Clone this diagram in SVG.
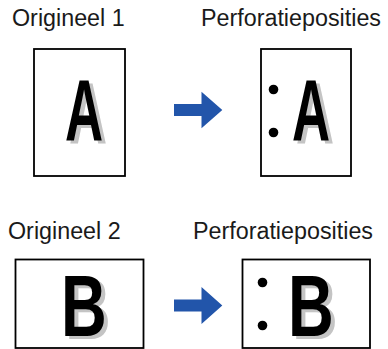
<svg xmlns="http://www.w3.org/2000/svg" width="388" height="349" viewBox="0 0 388 349">
<style>
.lbl{font-family:"Liberation Sans",Arial,sans-serif;font-size:23.3px;fill:#1a1a1a}
.page{fill:#fff;stroke:#000;stroke-width:1.8}
.big{font-family:"Liberation Sans",Arial,sans-serif;font-weight:bold;font-size:88px}
.sh{fill:#c4c4c4}
.fg{fill:#000}
.hole{fill:#000}
.arrow{fill:#2255aa}
</style>
<rect width="388" height="349" fill="#fff"/>
<text class="lbl" x="12" y="26">Origineel 1</text>
<text class="lbl" x="201" y="26">Perforatieposities</text>
<text class="lbl" x="8" y="239">Origineel 2</text>
<text class="lbl" x="193" y="239">Perforatieposities</text>

<g id="orig1">
<rect class="page" x="34" y="49" width="91" height="127"/>
<text class="big sh" transform="translate(69,143) scale(0.6,1)">A</text>
<text class="big fg" transform="translate(65,140) scale(0.6,1)">A</text>
</g>
<g id="punch1">
<rect class="page" x="261" y="49" width="90" height="127"/>
<circle class="hole" cx="273.5" cy="89.5" r="4.8"/>
<circle class="hole" cx="273.5" cy="132.5" r="4.8"/>
<text class="big sh" transform="translate(296,143) scale(0.6,1)">A</text>
<text class="big fg" transform="translate(292,140) scale(0.6,1)">A</text>
</g>
<g id="orig2">
<rect class="page" x="15.5" y="259.5" width="128" height="88.5"/>
<text class="big sh" transform="translate(65,339) scale(0.72,1)">B</text>
<text class="big fg" transform="translate(61,336) scale(0.72,1)">B</text>
</g>
<g id="punch2">
<rect class="page" x="242.5" y="259.5" width="127.5" height="88.5"/>
<circle class="hole" cx="262.5" cy="282.5" r="4.8"/>
<circle class="hole" cx="262.5" cy="325.5" r="4.8"/>
<text class="big sh" transform="translate(292,339) scale(0.72,1)">B</text>
<text class="big fg" transform="translate(288,336) scale(0.72,1)">B</text>
</g>
<g id="connectors">
<path class="arrow" d="M174,104 H201.5 V91.7 L222.3,110 L201.5,128.3 V116 H174 Z"/>
<path class="arrow" d="M174,299.5 H201.5 V287 L222.3,305.5 L201.5,324 V311.5 H174 Z"/>
</g>
</svg>
